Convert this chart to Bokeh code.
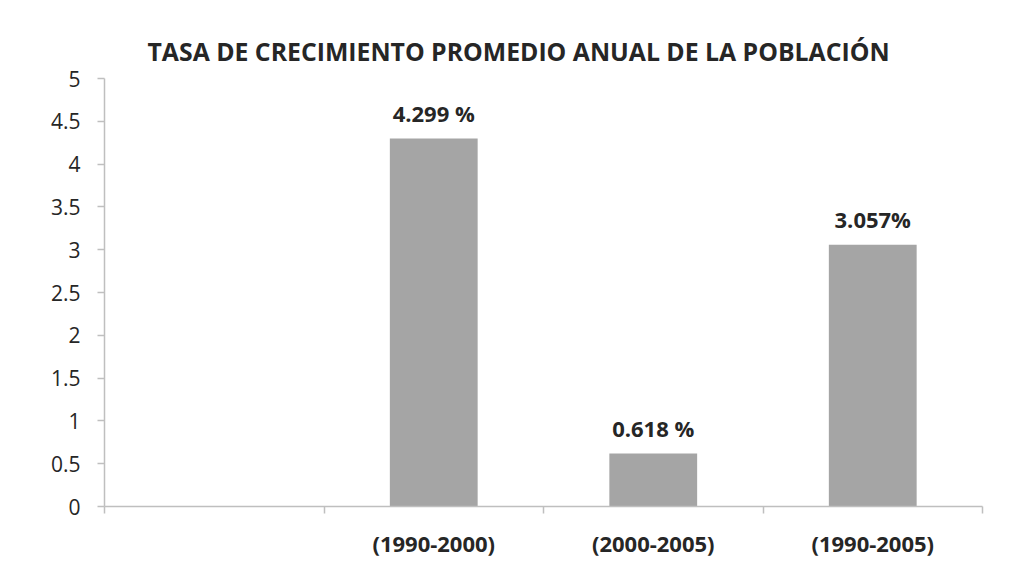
from bokeh.plotting import figure
from bokeh.models import ColumnDataSource, FixedTicker, LabelSet, Range1d, Title, Label
from bokeh.core.properties import value
from bokeh.embed import file_html
from bokeh.resources import INLINE

# ---- data ----
categories = ["", "(1990-2000)", "(2000-2005)", "(1990-2005)"]
bar_categories = ["(1990-2000)", "(2000-2005)", "(1990-2005)"]
values = [4.299, 0.618, 3.057]
value_labels = ["4.299 %", "0.618 %", "3.057%"]
y_ticks = [0, 0.5, 1, 1.5, 2, 2.5, 3, 3.5, 4, 4.5, 5]
y_tick_labels = ["0", "0.5", "1", "1.5", "2", "2.5", "3", "3.5", "4", "4.5", "5"]
title_text = "TASA DE CRECIMIENTO PROMEDIO ANUAL DE LA POBLACIÓN"

FONT = "Open Sans"
TXT = "#262626"
AX = "#bfbfbf"
FRAME = "#c4c4c4"

cat_pos = [i + 0.5 for i in range(len(categories))]
bar_pos = [cat_pos[categories.index(c)] for c in bar_categories]

W, H = 1000, 560
FL, FT, FR, FB = 104, 78, 982, 507   # plot-area edges in canvas pixels
p = figure(width=W, height=H, output_backend="svg", toolbar_location=None,
           x_range=Range1d(0, len(categories)), y_range=Range1d(0, 5),
           min_border_left=FL, min_border_right=W - FR, min_border_top=FT,
           min_border_bottom=H - FB)
p.background_fill_color = "white"
p.border_fill_color = "white"
p.outline_line_color = None
p.xgrid.grid_line_color = None
p.ygrid.grid_line_color = None

src = ColumnDataSource(dict(x=bar_pos, top=values, lab=value_labels))
p.vbar(x="x", top="top", bottom=0, width=0.4, source=src,
       fill_color="#a5a5a5", line_color=None)

labels = LabelSet(x="x", y="top", text="lab", source=src, text_align="center",
                  text_baseline="bottom", y_offset=11, text_font=value(FONT),
                  text_font_style="bold", text_font_size="22px", text_color=TXT)
p.add_layout(labels)

ya = p.yaxis[0]
ya.ticker = FixedTicker(ticks=y_ticks, minor_ticks=[])
ya.major_label_overrides = {t: l for t, l in zip(y_ticks, y_tick_labels)}
ya.axis_line_color = AX
ya.axis_line_width = 1.5
ya.major_tick_line_color = AX
ya.major_tick_line_width = 1.5
ya.major_tick_out = 7
ya.major_tick_in = 0
ya.minor_tick_line_color = None
ya.major_label_standoff = 17
ya.major_label_text_font = FONT
ya.major_label_text_font_size = "21px"
ya.major_label_text_color = TXT

xa = p.xaxis[0]
xa.ticker = FixedTicker(ticks=cat_pos, minor_ticks=list(range(len(categories) + 1)))
xa.major_label_overrides = {t: l for t, l in zip(cat_pos, categories)}
xa.axis_line_color = AX
xa.axis_line_width = 1.5
xa.major_tick_line_color = None
xa.minor_tick_line_color = AX
xa.minor_tick_line_width = 1.5
xa.minor_tick_out = 7
xa.minor_tick_in = 0
xa.major_label_standoff = 14
xa.major_label_text_font = FONT
xa.major_label_text_font_style = "bold"
xa.major_label_text_font_size = "22px"
xa.major_label_text_color = TXT

t = Title(text=title_text, align="left", offset=43, text_font=FONT,
          text_font_style="bold", text_font_size="24.8px", text_color=TXT,
          standoff=22)
p.add_layout(t, "above")

# chart-area frame: top and left edges (screen units are relative to the plot area)
fx, fy = 9, 6
vline = Label(x=fx - FL, y=FB - fy, x_units="screen", y_units="screen", text=" ",
              text_font_size="1px", text_align="left", text_baseline="top",
              background_fill_color=FRAME, border_line_color=None,
              padding=dict(left=0, right=2, top=0, bottom=H))
hline = Label(x=fx - FL, y=FB - fy, x_units="screen", y_units="screen", text=" ",
              text_font_size="1px", text_align="left", text_baseline="top",
              background_fill_color=FRAME, border_line_color=None,
              padding=dict(left=0, right=W, top=0, bottom=1))
p.add_layout(vline)
p.add_layout(hline)

open("out.html", "w").write(file_html(p, INLINE))
